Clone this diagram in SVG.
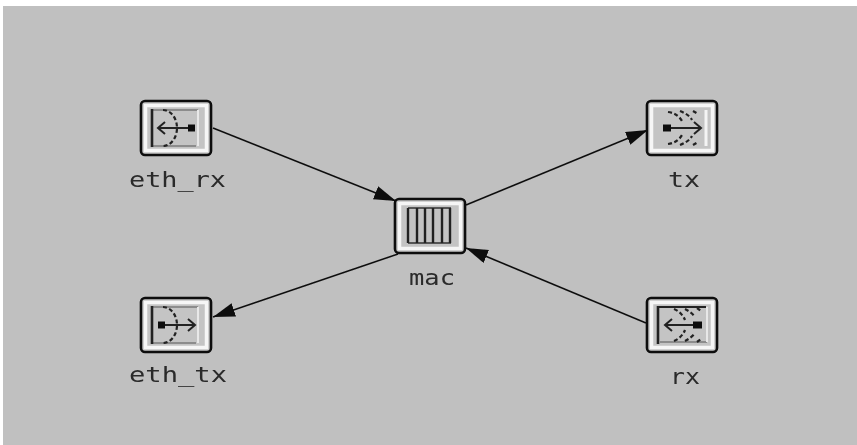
<svg xmlns="http://www.w3.org/2000/svg" width="857" height="445" viewBox="0 0 857 445">
<style>
.lbl{font-family:"DejaVu Sans Mono","Liberation Mono",monospace;font-size:21px;fill:#2a2a2a;text-anchor:middle}
.frame{fill:#c4c4c4;stroke:#111;stroke-width:2.6}
.hi{fill:none;stroke:#f6f6f6;stroke-width:3.5}
.ic{fill:none;stroke:#222;stroke-width:2}
.d{fill:none;stroke:#222;stroke-width:2.2;stroke-dasharray:4 2.5}
.e{fill:none;stroke:#111;stroke-width:1.6}
.bar{fill:none;stroke:#222;stroke-width:2.6}
.lt{fill:none;stroke:#8c8c8c;stroke-width:2}
</style>
<defs>
<filter id="soft" filterUnits="userSpaceOnUse" x="0" y="0" width="857" height="445"><feGaussianBlur stdDeviation="0.55"/></filter>
<marker id="ah" markerUnits="userSpaceOnUse" markerWidth="24" markerHeight="16" refX="22" refY="7" orient="auto"><path d="M0 0L22 7L0 14Z" fill="#111"/></marker>
<g id="box"><rect class="frame" x="-35" y="-27" width="70" height="54" rx="4"/><rect class="hi" x="-30.5" y="-22.5" width="61" height="45"/></g>
</defs>
<rect x="0" y="0" width="857" height="445" fill="#fff"/>
<rect x="3" y="6" width="854" height="439" fill="#c0c0c0"/>
<g filter="url(#soft)">
<g id="connectors">
<line class="e" x1="213" y1="128" x2="396" y2="201" marker-end="url(#ah)"/>
<line class="e" x1="466" y1="205" x2="648" y2="130" marker-end="url(#ah)"/>
<line class="e" x1="646" y1="323" x2="466" y2="248" marker-end="url(#ah)"/>
<line class="e" x1="398" y1="254" x2="213" y2="317" marker-end="url(#ah)"/>
</g>
<g id="eth_rx" transform="translate(176,128)">
<use href="#box"/>
<path class="lt" d="M-23 -18H22M-23 18H20"/>
<path d="M22 -18V18" stroke="#e8e8e8" stroke-width="2"/>
<path class="bar" d="M-24 -19V19"/>
<path class="d" d="M-13 -18A14 18 0 0 1 -13 18"/>
<path class="ic" d="M-18 0H12M-11 -6L-18 0L-11 6"/>
<rect x="12" y="-3.5" width="7" height="7" fill="#111"/>
<text class="lbl" x="1.5" y="59" textLength="97" lengthAdjust="spacingAndGlyphs">eth_rx</text>
</g>
<g id="tx" transform="translate(682,128)">
<use href="#box"/>
<path class="ic" d="M-14 0H19M12 -6L19 0L12 6"/>
<rect x="-19" y="-3.5" width="8" height="7" fill="#111"/>
<path class="d" d="M-14 -16C-6 -15 -1 -10 1 -5M-2 -17C3 -15 8 -12 10 -8M11 -17L16 -14"/>
<path class="d" d="M-14 16C-6 15 -1 10 1 5M-2 17C3 15 8 12 10 8M11 17L16 14"/>
<path d="M24 -18V18" stroke="#f4f4f4" stroke-width="3"/>
<text class="lbl" x="2" y="59" textLength="32" lengthAdjust="spacingAndGlyphs">tx</text>
</g>
<g id="mac" transform="translate(430,226)">
<use href="#box"/>
<path d="M-22 -18H21M-22 17H21" stroke="#555" stroke-width="1.8"/>
<path d="M-22 -18V17M-13 -18V17M-5 -18V17M3 -18V17M12 -18V17M20 -18V17" stroke="#222" stroke-width="2.4"/>
<text class="lbl" x="2" y="59" textLength="46" lengthAdjust="spacingAndGlyphs">mac</text>
</g>
<g id="eth_tx" transform="translate(176,325)">
<use href="#box"/>
<path class="lt" d="M-23 -18H22M-23 18H20"/>
<path d="M22 -18V18" stroke="#e8e8e8" stroke-width="2"/>
<path class="bar" d="M-24 -19V19"/>
<path class="d" d="M-13 -18A14 18 0 0 1 -13 18"/>
<path class="ic" d="M-12 0H19M12 -6L19 0L12 6"/>
<rect x="-18" y="-3.5" width="7" height="7" fill="#111"/>
<text class="lbl" x="2" y="57" textLength="98" lengthAdjust="spacingAndGlyphs">eth_tx</text>
</g>
<g id="rx" transform="translate(682,325)">
<use href="#box"/>
<path class="lt" d="M-22 17H25"/>
<path d="M-24 -18H24" stroke="#222" stroke-width="1.8"/>
<path d="M25 -18V17" stroke="#e8e8e8" stroke-width="2"/>
<path class="bar" d="M-24 -19V19"/>
<path class="ic" d="M-17 0H12M-10 -6L-17 0L-10 6"/>
<rect x="11" y="-3.5" width="9" height="7" fill="#111"/>
<path class="d" d="M-8 -16C-3 -14 1 -10 3 -5M3 -16C7 -14 11 -11 13 -8M15 -17L19 -14"/>
<path class="d" d="M-8 16C-3 14 1 10 3 5M3 16C7 14 11 11 13 8M15 17L19 14"/>
<text class="lbl" x="3" y="59" textLength="30" lengthAdjust="spacingAndGlyphs">rx</text>
</g>
</g>
</svg>
